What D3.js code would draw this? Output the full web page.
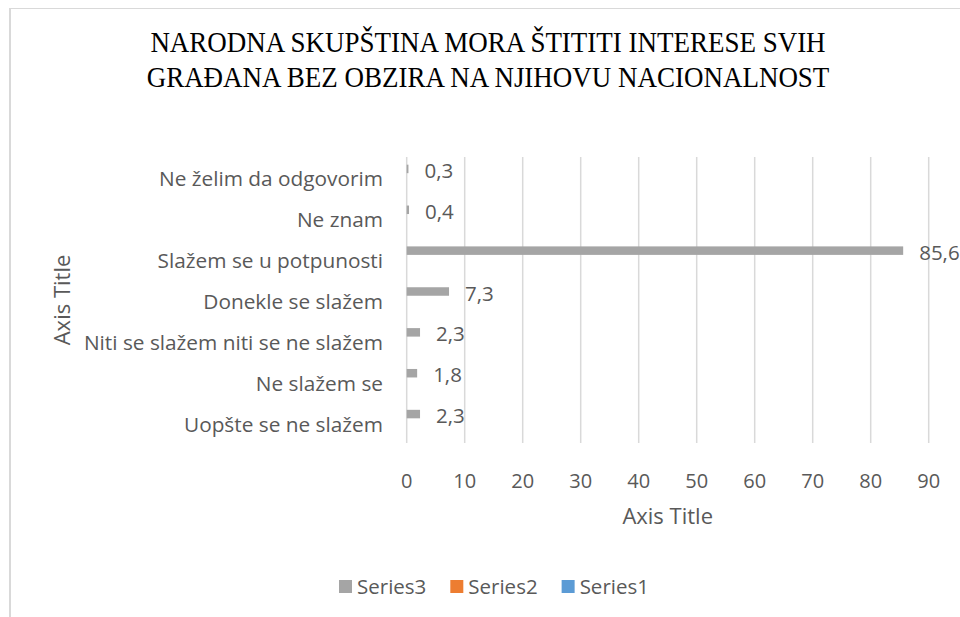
<!DOCTYPE html>
<html>
<head>
<meta charset="utf-8">
<script src="https://cdn.jsdelivr.net/npm/d3@7"></script>
<style>
  body { margin: 0; background: #fff; }
  svg { display: block; }
  .lbl { font-family: "Open Sans", sans-serif; fill: #595959; }
</style>
</head>
<body>
<svg id="chart" width="960" height="617"></svg>
<script>
// categories, bottom to top (Excel order)
const categories = [
  'Uopšte se ne slažem',
  'Ne slažem se',
  'Niti se slažem niti se ne slažem',
  'Donekle se slažem',
  'Slažem se u potpunosti',
  'Ne znam',
  'Ne želim da odgovorim'
]
const series1 = [null, null, null, null, null, null, null]
const series2 = [null, null, null, null, null, null, null]
const series3 = [2.3, 1.8, 2.3, 7.3, 85.6, 0.4, 0.3]
const seriesNames = ['Series1', 'Series2', 'Series3']
const seriesColors = ['#5B9BD5', '#ED7D31', '#A5A5A5']
const xTicks = [0, 10, 20, 30, 40, 50, 60, 70, 80, 90]
const titleLines = [
  'NARODNA SKUPŠTINA MORA ŠTITITI INTERESE SVIH',
  'GRAĐANA BEZ OBZIRA NA NJIHOVU NACIONALNOST'
]

const svg = d3.select('#chart')
const margin = { left: 406.7, right: 960 - 928.7, top: 157, bottom: 617 - 443 }
const W = 960, H = 617

// chart frame (right and bottom edge fall outside the picture)
svg.append('rect')
  .attr('x', 10).attr('y', 8.5)
  .attr('width', 1000).attr('height', 700)
  .attr('fill', 'none').attr('stroke', '#d9d9d9').attr('stroke-width', 1)
svg.append('line')
  .attr('x1', 10).attr('x2', 10).attr('y1', 8).attr('y2', H)
  .attr('stroke', '#d9d9d9').attr('stroke-width', 2)

// title (slightly condensed serif)
svg.append('g').selectAll('text')
  .data(titleLines)
  .enter().append('text')
  .attr('transform', (d, i) => `translate(488,${52 + i * 35}) scale(0.9,1)`)
  .attr('text-anchor', 'middle')
  .style('font-family', '"Liberation Serif", serif')
  .style('font-size', '30px')
  .style('fill', '#000')
  .text(d => d)

const x = d3.scaleLinear().domain([0, 90]).range([margin.left, W - margin.right])
const y = d3.scaleBand().domain(categories).range([H - margin.bottom, margin.top])
const barH = 8.5
const inner = d3.scaleBand()
  .domain(['Series3', 'Series2', 'Series1'])
  .range([0, y.bandwidth()])
  .paddingOuter((y.bandwidth() / barH - 3) / 2)

// gridlines
svg.append('g').selectAll('line')
  .data(xTicks)
  .enter().append('line')
  .attr('x1', d => x(d)).attr('x2', d => x(d))
  .attr('y1', margin.top).attr('y2', H - margin.bottom)
  .attr('stroke', '#d9d9d9').attr('stroke-width', 1.5)

// tick labels
svg.append('g').selectAll('text')
  .data(xTicks)
  .enter().append('text')
  .attr('class', 'lbl')
  .attr('x', d => x(d))
  .attr('y', 488)
  .attr('text-anchor', 'middle')
  .style('font-size', '20px')
  .text(d => d)

// category labels
svg.append('g').selectAll('text')
  .data(categories)
  .enter().append('text')
  .attr('class', 'lbl')
  .attr('x', 383)
  .attr('y', d => y(d) + y.bandwidth() / 2 + 9)
  .attr('text-anchor', 'end')
  .style('font-size', '20.8px')
  .text(d => d)

// bars
const allSeries = [series1, series2, series3]
allSeries.forEach((vals, si) => {
  const name = seriesNames[si]
  const rows = categories.map((c, i) => ({ c, v: vals[i] })).filter(d => d.v != null)
  svg.append('g').selectAll('rect')
    .data(rows)
    .enter().append('rect')
    .attr('x', x(0))
    .attr('y', d => y(d.c) + inner(name))
    .attr('width', d => x(d.v) - x(0))
    .attr('height', inner.bandwidth())
    .attr('fill', seriesColors[si])
  svg.append('g').selectAll('text')
    .data(rows)
    .enter().append('text')
    .attr('class', 'lbl')
    .attr('x', d => x(d.v) + 16)
    .attr('y', d => y(d.c) + inner(name) + inner.bandwidth() / 2 + 9)
    .style('font-size', '20.5px')
    .text(d => String(d.v).replace('.', ','))
})

// axis titles
svg.append('text')
  .attr('class', 'lbl')
  .attr('x', (x(0) + x(90)) / 2)
  .attr('y', 524)
  .attr('text-anchor', 'middle')
  .style('font-size', '22px')
  .text('Axis Title')
svg.append('text')
  .attr('class', 'lbl')
  .attr('transform', `translate(70,${(margin.top + H - margin.bottom) / 2}) rotate(-90)`)
  .attr('text-anchor', 'middle')
  .style('font-size', '22px')
  .text('Axis Title')

// legend
const legendItems = ['Series3', 'Series2', 'Series1']
const legend = svg.append('g')
let lx = 339
legendItems.forEach(name => {
  const col = seriesColors[seriesNames.indexOf(name)]
  legend.append('rect')
    .attr('x', lx).attr('y', 580)
    .attr('width', 13).attr('height', 13)
    .attr('fill', col)
  const t = legend.append('text')
    .attr('class', 'lbl')
    .attr('x', lx + 18)
    .attr('y', 594)
    .style('font-size', '20.5px')
    .text(name)
  lx += 18 + t.node().getComputedTextLength() + 24
})
</script>
</body>
</html>
